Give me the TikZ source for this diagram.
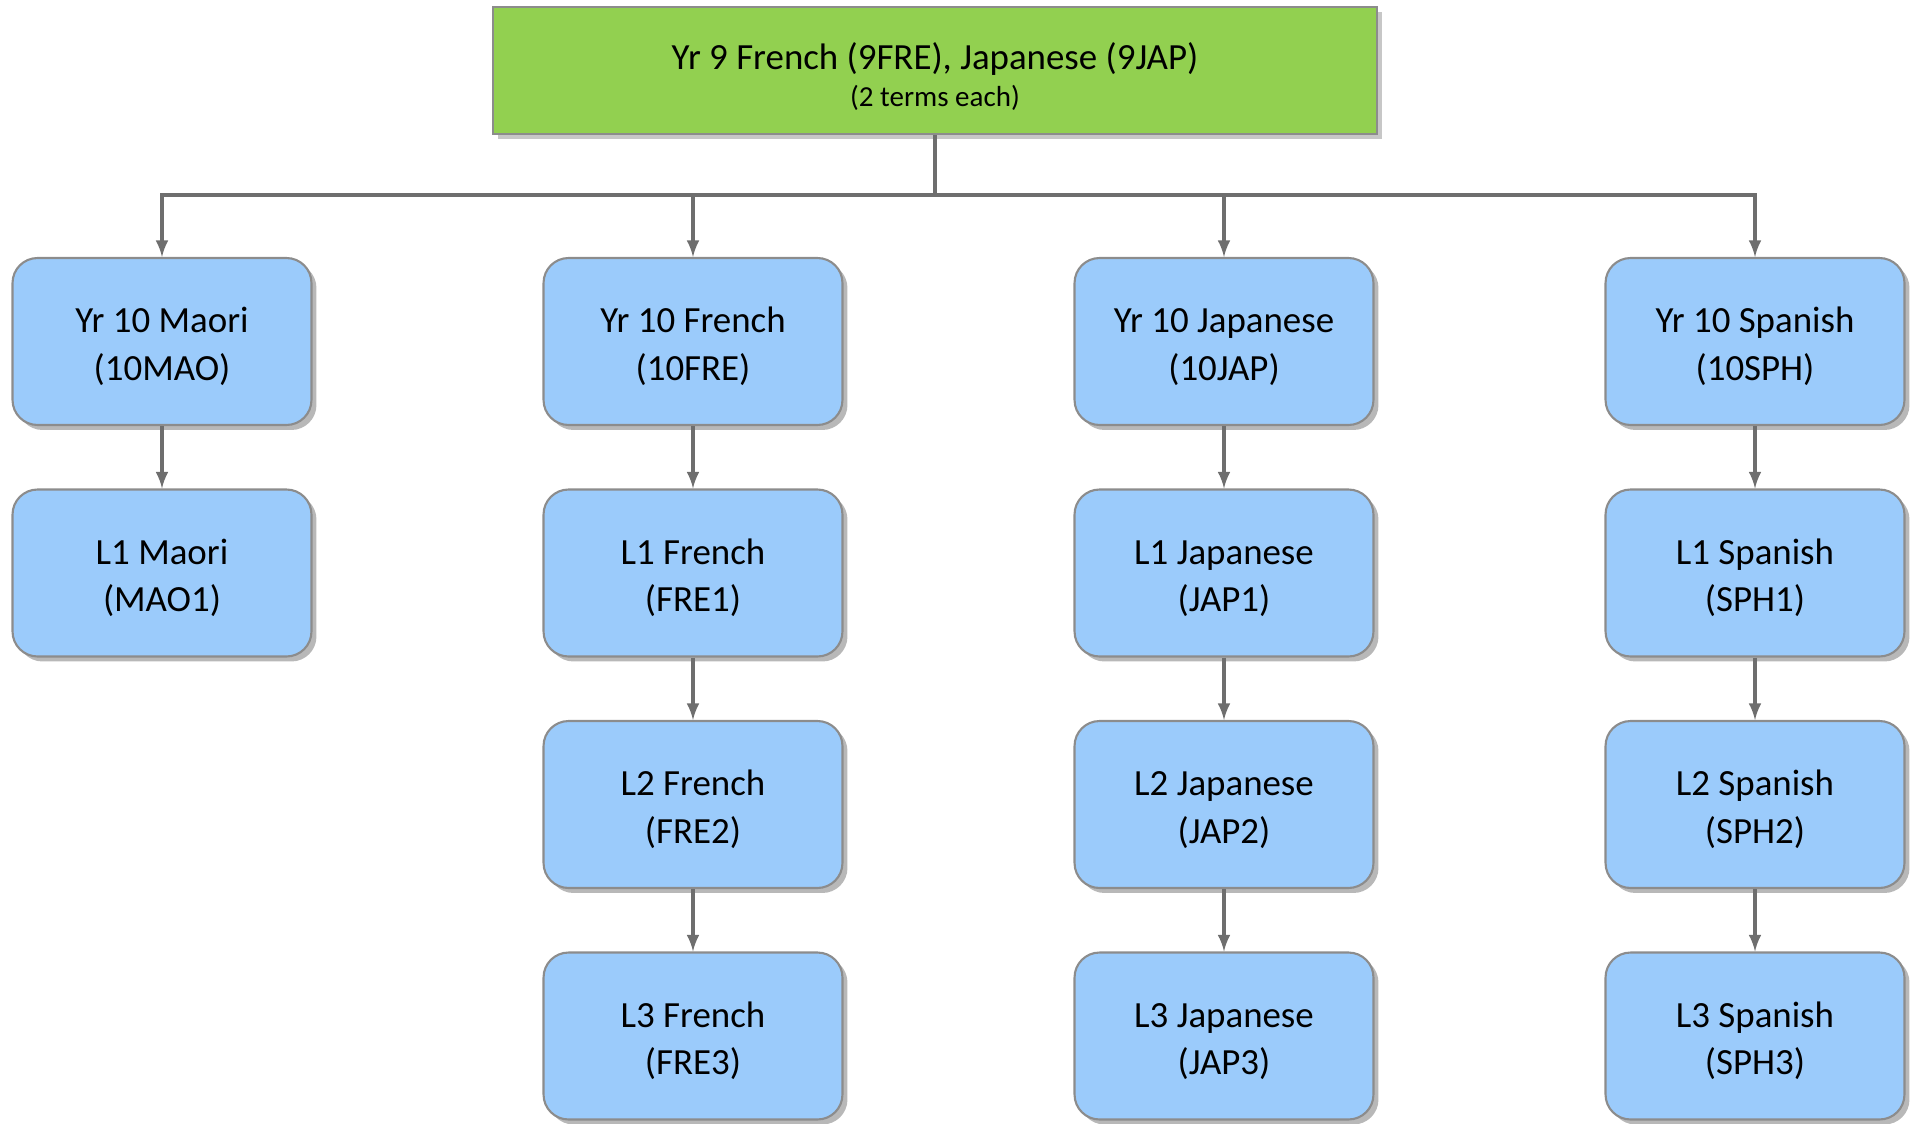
\documentclass[tikz,border=0pt]{standalone}
\usepackage{fontspec}
\setmainfont{Carlito}
\usepackage{tikz}
\usetikzlibrary{arrows,shadows}
\usepackage{xcolor}
\definecolor{boxblue}{RGB}{155,203,251}
\definecolor{boxgreen}{RGB}{146,208,80}
\definecolor{edgegray}{RGB}{140,140,140}
\definecolor{linegray}{RGB}{110,110,110}
\newcommand{\toppad}{\rule{0pt}{20pt}}
\tikzstyle{course}=[draw=edgegray,line width=1.2pt,fill=boxblue,rounded corners=0.5cm,
	minimum width=5.98cm,minimum height=3.34cm,align=center,
	font=\fontsize{21}{27}\selectfont,
	drop shadow={shadow xshift=0.1cm,shadow yshift=-0.1cm,fill=black!28,opacity=1}]
\tikzstyle{startbox}=[draw=edgegray,line width=1.2pt,fill=boxgreen,
	minimum width=17.7cm,minimum height=2.54cm,align=center,
	font=\fontsize{21}{27}\selectfont,
	drop shadow={shadow xshift=0.1cm,shadow yshift=-0.1cm,fill=black!22,opacity=1}]
\tikzstyle{link}=[draw=linegray,line width=2.2pt]
\tikzstyle{flow}=[link,-latex]

\begin{document}
\begin{tikzpicture}[x=0.02cm,y=-0.02cm]
	\useasboundingbox (0,0) rectangle (1910,1123);
	\node[startbox] (yrnine) at (935,70.5) {\rule{0pt}{22pt}Yr 9 French (9FRE), Japanese (9JAP)\\[-6pt]{\fontsize{16.5}{20}\selectfont (2 terms each)}};
	\coordinate (bus) at (935,195);
	% Maori
	\node[course] (mao10) at (162,341.5) {\toppad Yr 10 Maori\\(10MAO)};
	\node[course] (mao1) at (162,573) {\toppad L1 Maori\\(MAO1)};
	% French
	\node[course] (fre10) at (693,341.5) {\toppad Yr 10 French\\(10FRE)};
	\node[course] (fre1) at (693,573) {\toppad L1 French\\(FRE1)};
	\node[course] (fre2) at (693,804.5) {\toppad L2 French\\(FRE2)};
	\node[course] (fre3) at (693,1036) {\toppad L3 French\\(FRE3)};
	% Japanese
	\node[course] (jap10) at (1224,341.5) {\toppad Yr 10 Japanese\\(10JAP)};
	\node[course] (jap1) at (1224,573) {\toppad L1 Japanese\\(JAP1)};
	\node[course] (jap2) at (1224,804.5) {\toppad L2 Japanese\\(JAP2)};
	\node[course] (jap3) at (1224,1036) {\toppad L3 Japanese\\(JAP3)};
	% Spanish
	\node[course] (sph10) at (1755,341.5) {\toppad Yr 10 Spanish\\(10SPH)};
	\node[course] (sph1) at (1755,573) {\toppad L1 Spanish\\(SPH1)};
	\node[course] (sph2) at (1755,804.5) {\toppad L2 Spanish\\(SPH2)};
	\node[course] (sph3) at (1755,1036) {\toppad L3 Spanish\\(SPH3)};

	\draw[link] (yrnine.south) -- (bus);
	\draw[flow] (bus) -| (mao10.north);
	\draw[flow] (bus) -| (fre10.north);
	\draw[flow] (bus) -| (jap10.north);
	\draw[flow] (bus) -| (sph10.north);
	\draw[flow] (mao10) -- (mao1);
	\draw[flow] (fre10) -- (fre1);
	\draw[flow] (fre1) -- (fre2);
	\draw[flow] (fre2) -- (fre3);
	\draw[flow] (jap10) -- (jap1);
	\draw[flow] (jap1) -- (jap2);
	\draw[flow] (jap2) -- (jap3);
	\draw[flow] (sph10) -- (sph1);
	\draw[flow] (sph1) -- (sph2);
	\draw[flow] (sph2) -- (sph3);
\end{tikzpicture}
\end{document}
